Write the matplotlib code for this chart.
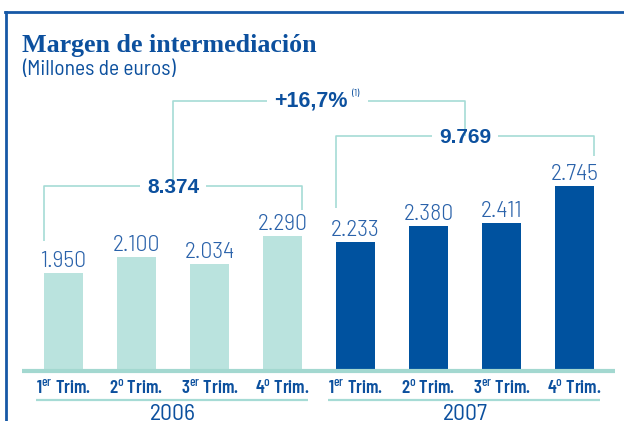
import matplotlib
matplotlib.use("Agg")
import matplotlib.pyplot as plt
import matplotlib.transforms as mtransforms
from matplotlib.lines import Line2D

# ---------------- data ----------------
years = ["2006", "2007"]
quarters = ["1$^{\\mathrm{er}}$ Trim.", "2$^{\\mathrm{o}}$ Trim.", "3$^{\\mathrm{er}}$ Trim.", "4$^{\\mathrm{o}}$ Trim."]
values_2006 = [1950, 2100, 2034, 2290]
values_2007 = [2233, 2380, 2411, 2745]
title = "Margen de intermediación"
subtitle = "(Millones de euros)"
footnote_mark = "(1)"

# ---------------- style ----------------
W, H = 624, 421
COND = ["Barlow Condensed", "DejaVu Sans"]
SEMI = ["Barlow Semi Condensed", "DejaVu Sans"]
SANS = ["Liberation Sans", "DejaVu Sans"]
plt.rcParams["mathtext.fontset"] = "custom"
plt.rcParams["mathtext.rm"] = "Barlow Condensed:medium"
plt.rcParams["mathtext.bf"] = "Barlow Condensed:medium"
plt.rcParams["mathtext.it"] = "Barlow Condensed:medium"
plt.rcParams["mathtext.sf"] = "Barlow Condensed"

C_LIGHT = "#bae3de"
C_DARK = "#00529f"
C_LINE = "#a6dbd5"
C_BASE = "#a3d8d0"
C_TXT = "#0c509e"
C_VAL = "#2a62aa"
C_FRAME = "#1658a6"

fig = plt.figure(figsize=(W / 100, H / 100), dpi=100)
ax = fig.add_axes([0, 0, 1, 1])
ax.axis("off")

# pixel (from top-left) transform
pt = mtransforms.Affine2D().scale(1 / W, -1 / H).translate(0, 1) + fig.transFigure
bt = mtransforms.blended_transform_factory(ax.transData, pt)

# axis scaling (value <-> vertical layout)
Y_REF, P_REF, VPP = 1073.0, 369.0, 9.14
ax.set_ylim(Y_REF - (H - P_REF) * VPP, Y_REF + P_REF * VPP)
ax.set_xlim(-0.8699, 7.6781)
BASE = Y_REF - 2 * VPP

values = values_2006 + values_2007
xs = list(range(len(values)))
colors = [C_LIGHT] * len(values_2006) + [C_DARK] * len(values_2007)
bw = 0.534
ax.bar(xs, [v - BASE for v in values], bottom=BASE, width=bw, color=colors, zorder=2)

def fmt(v):
    return f"{v:,}".replace(",", ".")

off = mtransforms.offset_copy(ax.transData, fig=fig, x=0, y=6, units="dots")
for x, v in zip(xs, values):
    ax.text(x, v, fmt(v), transform=off, ha="center", va="baseline",
            fontsize=17, family=SEMI, fontweight=300, color=C_VAL)

# baseline
ax.plot([-0.57, 7.555], [371, 371], transform=bt, color=C_BASE, lw=3, solid_capstyle="butt", zorder=3)

# quarter labels
for x in xs:
    ax.text(x, 393, quarters[x % 4], transform=bt, ha="center", va="baseline",
            fontsize=13.5, family=COND, fontweight=600, color=C_TXT)

# year underline + year labels
groups = [(0, 3), (4, 7)]
for (a, b), yr in zip(groups, years):
    ax.plot([a - 0.37, b + 0.35], [400, 400], transform=bt, color=C_LINE, lw=1.6, solid_capstyle="butt")
    ax.text((a + b) / 2, 420, yr, transform=bt, ha="center", va="baseline",
            fontsize=17, family=SEMI, fontweight=400, color=C_TXT)

# totals brackets
totals = [sum(values_2006), sum(values_2007)]
br_y = [186, 136]
drops = [(241, 210), (208, 156)]
gap = 33 / 73
lk = dict(transform=bt, color=C_LINE, lw=1.2, solid_capstyle="butt")
for (a, b), tot, py, (dl, dr) in zip(groups, totals, br_y, drops):
    mid = (a + b) / 2
    l, r = a - bw / 2, b + bw / 2
    ax.plot([l, l, mid - gap], [dl, py, py], **lk)
    ax.plot([mid + gap, r, r], [py, py, dr], **lk)
    ax.text(mid, py + 7, fmt(tot), transform=bt, ha="center", va="baseline",
            fontsize=15, family=SANS, fontweight="bold", color=C_TXT)

# growth bracket
growth = (totals[1] / totals[0] - 1) * 100
m0, m1 = sum(groups[0]) / 2, sum(groups[1]) / 2
gm = (m0 + m1) / 2
ax.plot([m0, m0, gm - 52 / 73], [br_y[0], 101, 101], **lk)
ax.plot([gm + 49 / 73, m1, m1], [101, 101, br_y[1]], **lk)
ax.text(gm + 29 / 73, 107, f"+{growth:.1f}%".replace(".", ","), transform=bt,
        ha="right", va="baseline", fontsize=15.5, family=SANS, fontweight="bold", color=C_TXT)
ax.text(gm + 33 / 73, 96, footnote_mark, transform=bt, ha="left", va="baseline",
        fontsize=7.5, family=COND, color=C_TXT)

# titles
fig.text(22 / W, 1 - 52 / H, title, ha="left", va="baseline", fontsize=18.7,
         family=["Liberation Serif", "DejaVu Serif"], fontweight="bold", color=C_TXT)
fig.text(22 / W, 1 - 75 / H, subtitle, ha="left", va="baseline", fontsize=15.5,
         family=SEMI, fontweight=400, color=C_TXT)

# frame
fig.add_artist(Line2D([5.5, 5.5], [12, H], transform=pt, color=C_FRAME, lw=2))
fig.add_artist(Line2D([4.5, W], [12, 12], transform=pt, color=C_FRAME, lw=2))

fig.savefig("out.png", dpi=100)
